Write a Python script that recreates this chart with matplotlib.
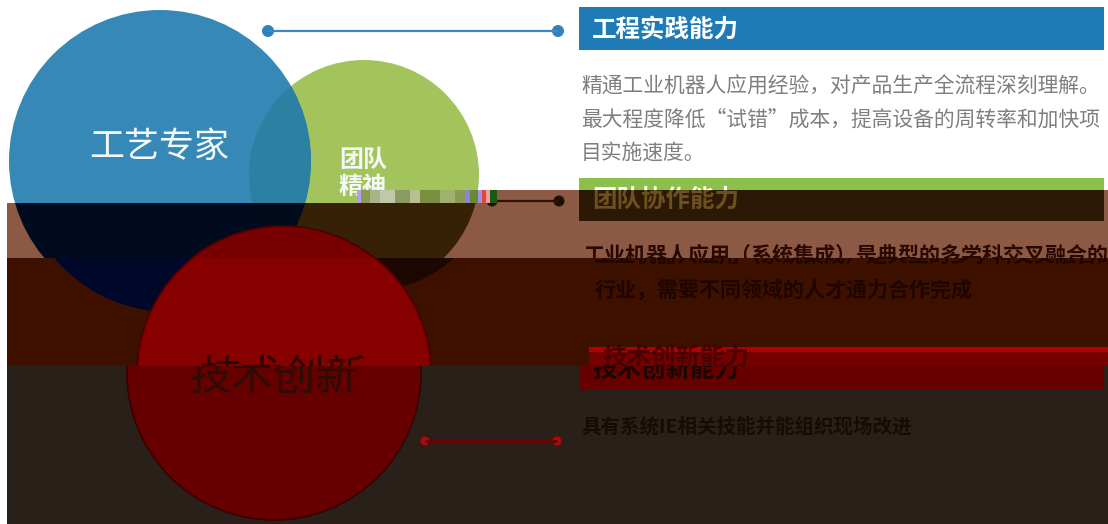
import matplotlib
matplotlib.use("Agg")
import matplotlib.pyplot as plt
from matplotlib.patches import Circle, Rectangle

plt.rcParams['font.family'] = ['Noto Sans CJK SC', 'DejaVu Sans']

W, H = 1108, 524
DPI = 100

# ---------------- content ----------------
circle_labels = ['工艺专家', '团队\n精神', '技术创新']
headers = ['工程实践能力', '团队协作能力', '技术创新能力']
body_practice = ['精通工业机器人应用经验，对产品生产全流程深刻理解。',
                 '最大程度降低“试错”成本，提高设备的周转率和加快项',
                 '目实施速度。']
body_team = ['工业机器人应用（系统集成）是典型的多学科交叉融合的',
             '行业，需要不同领域的人才通力合作完成']
body_innov = ['具有系统IE相关技能并能组织现场改进']

# ---------------- geometry (pixel units) ----------------
BLUE_C = (160, 161, 151)
GREEN_C = (364, 175, 115)
RED_C = (274, 373, 147)

base = dict(bg='#ffffff', blue='#3689b6', green='#a3c45c', overlap='#2c80a2',
            red='#7a0000', red_edge='#3a0000',
            bar1='#1e7bb5', bar2='#8dc04b', bar3='#6a0000', bar3_top='#6a0000',
            head1='#ffffff', head2='#ffffff', head3='#ffffff',
            label1='#f4f8f8', label2='#f4f8f8', label3='#2c0c06',
            body1='#7e7e7e', body2='#2c0a00', body3='#150c06',
            line1='#3d8ac2', dot1='#2f80bb', line2='#8ab84a', dot2='#8ab84a',
            line3='#6a0404', dot3='#a01010')

palA = dict(base)
palB = dict(base, bg='#8c5a44', blue='#000b1f', green='#362106', overlap='#020b1c',
            red='#780000', red_edge='#4a0000', bar2='#2b1906', head2='#6e5020',
            label2='#4a3a22', body2='#2a0800', line2='#2a1406', dot2='#1e0e04')
palC = dict(base, bg='#3e1000', blue='#00082a', green='#1c0800', overlap='#00082a',
            red='#860000', red_edge='#4a0000', bar3='#760000', bar3_top='#b00000',
            head3='#4a0000', body2='#1e0500', label3='#2e0800')
palD = dict(base, bg='#29201a', red='#660000', red_edge='#3a0000', bar3='#680000',
            bar3_top='#680000', head3='#1a0600', body3='#150c06', label3='#2e0c06')

# (x0, x1, y0, y1, palette, dx, red_dx, header3_dy)
bands = [
    (0, 497, 0, 203, palA, 0, 0, 0),
    (497, 1108, 0, 190, palA, 0, 0, 0),
    (7, 497, 203, 258, palB, 0, 9, 0),
    (497, 1108, 190, 258, palB, 0, 9, 0),
    (7, 1108, 258, 366, palC, 10, 10, -12),
    (7, 1108, 366, 524, palD, 0, 0, 0),
]


def pt(px):
    return px * 72.0 / DPI


def txt(ax, x, y, s, size_px, color, ha='left', weight='normal'):
    # draw only where the text can be seen inside this band
    x0, x1 = ax.get_xlim()
    y1, y0 = ax.get_ylim()
    half = size_px * 0.55
    if y + half < y0 or y - half > y1:
        return
    width = size_px * len(s)
    left = x - width / 2 if ha == 'center' else x
    if left + width < x0 or left > x1:
        return
    ax.text(x, y, s, fontsize=pt(size_px), color=color, ha=ha, va='center',
            fontweight=weight, clip_on=True)


def scene(ax, p, dx, rdx, h3dy):
    ax.set_facecolor(p['bg'])
    # circles
    gx, gy, gr = GREEN_C
    bx, by, br = BLUE_C
    rx, ry, rr = RED_C
    ax.add_patch(Circle((gx + dx, gy), gr, color=p['green'], lw=0))
    blue = Circle((bx + dx, by), br, color=p['blue'], lw=0)
    ax.add_patch(blue)
    ov = Circle((gx + dx, gy), gr, color=p['overlap'], lw=0)
    ax.add_patch(ov)
    ov.set_clip_path(blue)
    ax.add_patch(Circle((rx + rdx, ry), rr, facecolor=p['red'],
                        edgecolor=p['red_edge'], lw=1.2))

    # connector lines
    for (xa, xb, yy, lc, dc, r, lw) in [(268, 558, 31, p['line1'], p['dot1'], 5.5, 1.6),
                                         (492, 559, 201, p['line2'], p['dot2'], 5, 1.6),
                                         (425, 557, 441, p['line3'], p['dot3'], 5, 2.2)]:
        ax.plot([xa + dx, xb + dx], [yy, yy], color=lc, lw=lw, solid_capstyle='butt')
        for xx in (xa, xb):
            ax.add_patch(Circle((xx + dx, yy), r, facecolor=dc, edgecolor=lc, lw=0.8))

    # header bars
    ax.add_patch(Rectangle((579 + dx, 7), 525, 43, color=p['bar1'], lw=0))
    ax.add_patch(Rectangle((579 + dx, 178), 525, 43, color=p['bar2'], lw=0))
    ax.add_patch(Rectangle((579 + dx, 347), 525, 43, color=p['bar3'], lw=0))
    ax.add_patch(Rectangle((579 + dx, 347), 525, 5, color=p['bar3_top'], lw=0))

    # circle labels
    txt(ax, 159 + dx, 147, circle_labels[0], 35, p['label1'], ha='center')
    l2 = circle_labels[1].split('\n')
    txt(ax, 339 + dx, 160, l2[0], 24, p['label2'], weight='bold')
    txt(ax, 339 + dx, 187, l2[1], 24, p['label2'], weight='bold')
    txt(ax, 273 + dx, 378, circle_labels[2], 42, p['label3'], ha='center')

    # headers
    txt(ax, 592 + dx, 30, headers[0], 24.5, p['head1'], weight='bold')
    txt(ax, 592 + dx, 200, headers[1], 24.5, p['head2'], weight='bold')
    txt(ax, 592 + dx, 370 + h3dy, headers[2], 24.5, p['head3'], weight='bold')

    # body texts
    for i, s in enumerate(body_practice):
        txt(ax, 581 + dx, 87 + 33 * i, s, 20.8, p['body1'])
    txt(ax, 583 + dx, 255, body_team[0], 21, p['body2'], weight='bold')
    txt(ax, 585 + dx, 290, body_team[1], 21, p['body2'], weight='bold')
    txt(ax, 581 + dx, 427, body_innov[0], 19.5, p['body3'], weight='bold')


fig = plt.figure(figsize=(W / DPI, H / DPI), dpi=DPI, facecolor='white')

for (x0, x1, y0, y1, pal, dx, rdx, h3dy) in bands:
    ax = fig.add_axes([x0 / W, 1 - y1 / H, (x1 - x0) / W, (y1 - y0) / H])
    ax.set_xlim(x0, x1)
    ax.set_ylim(y1, y0)
    ax.set_xticks([])
    ax.set_yticks([])
    for sp in ax.spines.values():
        sp.set_visible(False)
    scene(ax, pal, dx, rdx, h3dy)

# glitch strip
ov = fig.add_axes([0, 0, 1, 1])
ov.set_xlim(0, W)
ov.set_ylim(H, 0)
ov.axis('off')
strip = [(357, 4, '#b0a0f0'), (361, 9, '#8a9a50'), (370, 10, '#a8b488'),
         (380, 15, '#c0c8a8'), (395, 15, '#8a9a60'), (410, 10, '#b8c090'),
         (420, 20, '#7a9040'), (440, 15, '#a0b070'), (455, 10, '#8a9a50'),
         (465, 5, '#9080e0'), (470, 8, '#6a8a30'), (478, 4, '#a090f0'),
         (482, 4, '#e04a30'), (486, 4, '#f0a0a0'), (490, 7, '#1a5a10')]
for (x, w, c) in strip:
    ov.add_patch(Rectangle((x, 190), w, 13, color=c, lw=0))

fig.savefig('out.png', dpi=DPI, facecolor='white')
